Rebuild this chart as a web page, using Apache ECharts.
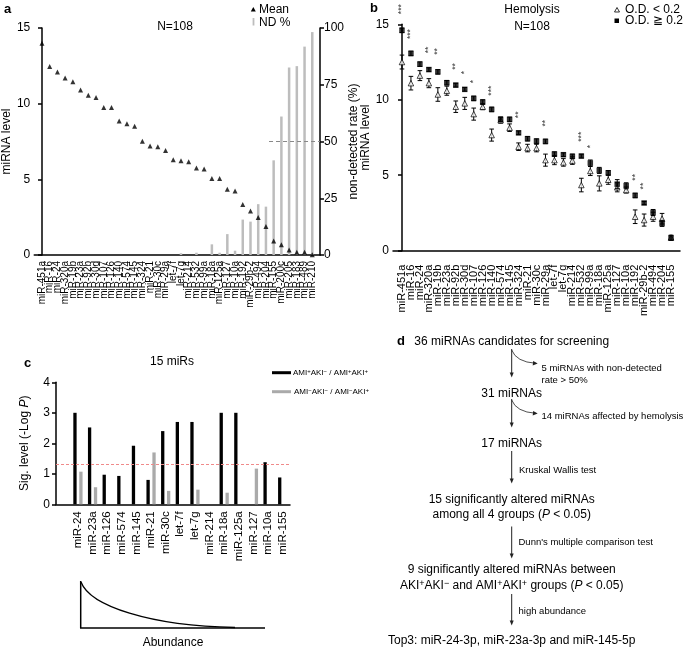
<!DOCTYPE html>
<html><head><meta charset="utf-8">
<script src="https://cdn.jsdelivr.net/npm/echarts@6/dist/echarts.min.js"></script>
<style>html,body{margin:0;padding:0;background:#fff}#c{width:685px;height:649px}</style>
</head><body><div id="c"></div><script>
const FONT = '"Liberation Sans", Arial, Helvetica, sans-serif';

// ---------- Panel a ----------
const aCategories = ['miR-451a','miR-16','miR-24','miR-320a','miR-19b','miR-23a','miR-92b','miR-30d','miR-107','miR-126','miR-140','miR-574','miR-145','miR-324','miR-21','miR-30c','miR-29a','let-7f','let-7g','miR-214','miR-532','miR-99a','miR-18a','miR-125a','miR-127','miR-10a','miR-192','miR-29b-2','miR-494','miR-204','miR-155','miR-200c','miR-205','miR-183','miR-489','miR-210'];
const aMean = [14.0,12.45,12.1,11.7,11.45,10.9,10.55,10.4,9.75,9.75,8.86,8.68,8.5,7.52,7.2,7.15,6.9,6.3,6.23,6.16,5.75,5.68,5.05,5.05,4.34,4.23,3.33,2.9,2.48,1.89,0.92,0.68,0.33,0.18,0.18,0.02];
const aND = [0,0,0,0,0,0,0,0,0,0,0,0,0,0,0,0,0,0,0.8,0,1,0,4.7,1,9.2,1.9,15.6,14.7,22.4,21.3,41.7,61,82.6,83.2,91.8,98.2];
const aCutoff = 50;          // ND % threshold
const aCutoffFrom = 29.4;    // category position where dashed threshold starts
const aLeftTicks = [0, 15, 5];   // min, max, interval
const aRightTicks = [0, 100, 25];

// ---------- Panel b ----------
const bCategories = aCategories.slice(0, 31);
const bLow     = [12.5,11.1,11.6,11.1,10.35,10.6,9.54,9.76,9.05,9.54,7.66,8.65,8.15,6.89,6.8,6.8,6.0,6.0,5.85,5.97,4.35,5.28,4.46,4.7,4.2,4.02,2.25,2.03,2.25,2.12,0.88];
const bLowErr  = [0.46,0.45,0.33,0.3,0.45,0.3,0.38,0.4,0.4,0.2,0.4,0.2,0.25,0.25,0.25,0.25,0.4,0.3,0.25,0.25,0.45,0.3,0.5,0.3,0.3,0.2,0.45,0.4,0.3,0.35,0.15];
const bHigh    = [14.6,13.07,12.36,12.0,11.85,11.13,10.97,10.69,10.09,9.85,9.36,8.7,8.7,7.81,7.42,7.26,7.24,6.4,6.36,6.25,6.27,5.81,5.32,5.16,4.41,4.3,3.66,3.16,2.53,1.81,0.84];
const bHighErr = [0.15,0.15,0.15,0.12,0.15,0.15,0.12,0.12,0.15,0.15,0.15,0.15,0.15,0.12,0.15,0.15,0.15,0.15,0.12,0.15,0.12,0.2,0.2,0.15,0.3,0.2,0.15,0.1,0.2,0.2,0.15];
const bSigIndex = [0,1,3,4,6,7,8,10,13,16,20,21,26,27];
const bSigText  = ['***','***','**','**','**','*','*','***','**','**','***','*','**','**'];
const bSigLevel = [16.0,14.35,13.3,13.2,12.2,11.8,11.2,10.6,9.0,8.45,7.55,6.9,4.86,4.28];

// ---------- Panel c ----------
const cCategories = ['miR-24','miR-23a','miR-126','miR-574','miR-145','miR-21','miR-30c','let-7f','let-7g','miR-214','miR-18a','miR-125a','miR-127','miR-10a','miR-155'];
const cPos = [3.0,2.52,0.97,0.93,1.92,0.8,2.4,2.7,2.7,0,3.0,3.0,0,1.38,0.88];  // AMI+AKI- / AMI+AKI+
const cNeg = [1.07,0.56,0,0,0,1.7,0.44,0,0.48,0,0.38,0,1.17,0,0];          // AMI-AKI- / AMI-AKI+
const cThreshold = 1.3;  // -log10(0.05)

// ---------- helpers ----------
const axLine = {show:true, lineStyle:{color:'#000', width:1.5}};
const axTick = {show:true, inside:false, length:4, lineStyle:{color:'#000', width:1.5}};
const tickLab = {color:'#000', fontFamily:FONT, fontSize:12, margin:4};
function catFmt(list){ return function(v){ const r=Math.round(v); return (Math.abs(v-r)<1e-6 && r>=0 && r<list.length) ? list[r] : ''; }; }
function errRender(params, api){
  const x=api.value(0), y=api.value(1), e=api.value(2);
  const t=api.coord([x,y+e]), b=api.coord([x,y-e]); const w=2.3;
  const st={stroke:'#000', lineWidth:1};
  return {type:'group', children:[
    {type:'line', shape:{x1:t[0],y1:t[1],x2:b[0],y2:b[1]}, style:st},
    {type:'line', shape:{x1:t[0]-w,y1:t[1],x2:t[0]+w,y2:t[1]}, style:st},
    {type:'line', shape:{x1:b[0]-w,y1:b[1],x2:b[0]+w,y2:b[1]}, style:st}]};
}
function txt(x,y,text,opt){
  opt=opt||{};
  return {type:'text', x:x, y:y, silent:true, style:Object.assign({text:text, fill:'#000', font:(opt.bold?'bold ':'')+(opt.size||12)+'px '+FONT, align:opt.align||'left', verticalAlign:opt.va||'middle'}, opt.rich?{rich:opt.rich}:{} )};
}
function line(x1,y1,x2,y2,w,c){ return {type:'line', silent:true, shape:{x1,y1,x2,y2}, style:{stroke:c||'#000', lineWidth:w||1}}; }
function downArrow(x,y1,y2){ return [line(x,y1,x,y2-4,1,'#222'), {type:'polygon', silent:true, shape:{points:[[x-2,y2-5],[x+2,y2-5],[x,y2]]}, style:{fill:'#222'}}]; }
function sideArrow(x,y){ // curved arrow leaving vertical line toward note
  return [{type:'bezierCurve', silent:true, shape:{x1:x, y1:y, cpx1:x+4.5, cpy1:y+12, x2:x+24, y2:y+13.3}, style:{stroke:'#222', lineWidth:0.8, fill:null}},
          {type:'polygon', silent:true, shape:{points:[[x+26,y+13.6],[x+21.5,y+11],[x+21,y+15.5]]}, style:{fill:'#222'}}];
}
const supRich = function(sz){ return {
  n:{fontFamily:FONT, fontSize:sz, fill:'#000'},
  s:{fontFamily:FONT, fontSize:Math.round(sz*0.72), fill:'#000', verticalAlign:'top', padding:[0,0,Math.round(sz*0.35),0]},
  i:{fontFamily:FONT, fontSize:sz, fill:'#000', fontStyle:'italic'} }; };

// ---------- graphics ----------
const g = [];
g.push(txt(4,9,'a',{bold:true,size:13}));
g.push(txt(370,8,'b',{bold:true,size:13}));
g.push(txt(24,363,'c',{bold:true,size:13}));
g.push(txt(397,341,'d',{bold:true,size:13}));
// panel a legend/title
g.push({type:'polygon', silent:true, shape:{points:[[250.8,11.5],[255.8,11.5],[253.3,7]]}, style:{fill:'#000'}});
g.push(txt(259,10,'Mean'));
g.push({type:'rect', silent:true, shape:{x:252.6,y:18,width:1.8,height:7.5}, style:{fill:'#bdbdbd'}});
g.push(txt(259,23,'ND %'));
g.push(txt(175,27,'N=108',{align:'center'}));
// panel b titles/legend
g.push(txt(532,10,'Hemolysis',{align:'center'}));
g.push(txt(532,27,'N=108',{align:'center'}));
g.push({type:'polygon', silent:true, shape:{points:[[614.5,12],[619.5,12],[617,7.5]]}, style:{fill:'#fff', stroke:'#000', lineWidth:0.8}});
g.push(txt(625,10,'O.D. < 0.2'));
g.push({type:'rect', silent:true, shape:{x:614.5,y:18.5,width:4.5,height:4.5}, style:{fill:'#000'}});
g.push(txt(625,21,'O.D. \u2267 0.2'));
// panel c title/legend
g.push(txt(172,362,'15 miRs',{align:'center'}));
g.push(line(272,372.7,291,372.7,3,'#000'));
g.push(txt(293,372.7,'{n|AMI}{s|+}{n|AKI}{s|\u2212}{n| / AMI}{s|+}{n|AKI}{s|+}',{size:8,rich:supRich(8)}));
g.push(line(272,391.7,291,391.7,3,'#aaaaaa'));
g.push(txt(294,391.7,'{n|AMI}{s|\u2212}{n|AKI}{s|\u2212}{n| / AMI}{s|\u2212}{n|AKI}{s|+}',{size:8,rich:supRich(8)}));
// abundance schematic
g.push(line(80.7,581,80.7,628,1.5));
g.push(line(80,628,265,628,1.5));
g.push({type:'bezierCurve', silent:true, shape:{x1:81, y1:582, cpx1:90, cpy1:606, cpx2:150, cpy2:626, x2:235, y2:627.5}, style:{stroke:'#000', lineWidth:1.3, fill:null}});
g.push(txt(173,643,'Abundance',{align:'center'}));
// panel d flowchart
const cx = 511.7;
g.push(txt(cx,341.7,'36 miRNAs candidates for screening',{align:'center'}));
g.push(...downArrow(cx,349,377.5)); g.push(...sideArrow(cx,350));
g.push(txt(541.5,368.3,'5 miRNAs with non-detected',{size:9.5}));
g.push(txt(541.5,380.7,'rate > 50%',{size:9.5}));
g.push(txt(cx,393.3,'31 miRNAs',{align:'center'}));
g.push(...downArrow(cx,399,427.5)); g.push(...sideArrow(cx,400));
g.push(txt(541.5,416.7,'14 miRNAs affected by hemolysis',{size:9.5}));
g.push(txt(cx,444,'17 miRNAs',{align:'center'}));
g.push(...downArrow(cx,451,483.5));
g.push(txt(519,470,'Kruskal Wallis test',{size:9.5}));
g.push(txt(cx,500,'15 significantly altered miRNAs',{align:'center'}));
g.push(txt(cx,515,'{n|among all 4 groups (}{i|P}{n| < 0.05)}',{align:'center',rich:supRich(12)}));
g.push(...downArrow(cx,526.5,558.5));
g.push(txt(518.5,542.3,"Dunn's multiple comparison test",{size:9.5}));
g.push(txt(cx,569.3,'9 significantly altered miRNAs between',{align:'center'}));
g.push(txt(cx,586,'{n|AKI}{s|+}{n|AKI}{s|\u2212}{n| and AMI}{s|+}{n|AKI}{s|+}{n| groups (}{i|P}{n| < 0.05)}',{align:'center',rich:supRich(12)}));
g.push(...downArrow(cx,594,625.5));
g.push(txt(518.5,611.7,'high abundance',{size:9.5}));
g.push(txt(cx,641,'Top3: miR-24-3p, miR-23a-3p and miR-145-5p',{align:'center'}));

const option = {
  backgroundColor:'#fff',
  animation:false,
  textStyle:{fontFamily:FONT},
  grid:[
    {left:29, top:28, width:291, height:227},
    {left:393, top:24.3, width:287, height:226.4},
    {left:56, top:382.3, width:234, height:122}
  ],
  xAxis:[
    {gridIndex:0, type:'value', min:-1, max:36, interval:1, axisLine:axLine, axisTick:{show:false}, splitLine:{show:false},
     axisLabel:{rotate:90, fontSize:10, color:'#000', fontFamily:FONT, margin:6, formatter:catFmt(aCategories)}},
    {gridIndex:1, type:'value', min:-1, max:31, interval:1, axisLine:axLine, axisTick:{show:false}, splitLine:{show:false},
     axisLabel:{rotate:90, fontSize:11, color:'#000', fontFamily:FONT, margin:14, formatter:catFmt(bCategories)}},
    {gridIndex:2, type:'category', data:[''].concat(cCategories), axisLine:axLine, axisTick:{show:false},
     axisLabel:{rotate:90, interval:0, fontSize:11.5, color:'#000', fontFamily:FONT, margin:7}}
  ],
  yAxis:[
    {gridIndex:0, type:'value', min:aLeftTicks[0], max:aLeftTicks[1], interval:aLeftTicks[2], axisLine:axLine, axisTick:axTick, splitLine:{show:false}, axisLabel:tickLab,
     name:'miRNA level', nameLocation:'middle', nameGap:14, nameTextStyle:{fontSize:12, color:'#000', fontFamily:FONT}},
    {gridIndex:0, type:'value', position:'right', min:aRightTicks[0], max:aRightTicks[1], interval:aRightTicks[2], axisLine:axLine, axisTick:axTick, splitLine:{show:false}, axisLabel:tickLab,
     name:'non-detected rate (%)', nameLocation:'middle', nameGap:21, nameTextStyle:{fontSize:12, color:'#000', fontFamily:FONT}},
    {gridIndex:1, type:'value', min:0, max:15, interval:5, axisLine:axLine, axisTick:axTick, splitLine:{show:false}, axisLabel:tickLab,
     name:'miRNA level', nameLocation:'middle', nameGap:17, nameTextStyle:{fontSize:12, color:'#000', fontFamily:FONT}},
    {gridIndex:2, type:'value', min:0, max:4, interval:1, axisLine:axLine, axisTick:axTick, splitLine:{show:false}, axisLabel:Object.assign({}, tickLab, {margin:6}),
     name:'{n|Sig. level (-Log }{i|P}{n|)}', nameLocation:'middle', nameGap:25,
     nameTextStyle:{rich:{n:{fontSize:12,color:'#000',fontFamily:FONT}, i:{fontSize:12,color:'#000',fontFamily:FONT,fontStyle:'italic'}}}}
  ],
  series:[
    {type:'bar', xAxisIndex:0, yAxisIndex:1, barWidth:2.5, itemStyle:{color:'#bdbdbd'}, data:aND.map((v,i)=>[i,v]),
     markLine:{silent:true, symbol:'none', label:{show:false}, lineStyle:{color:'#888', type:[4,3], width:1.2},
       data:[[{coord:[aCutoffFrom,aCutoff]},{coord:[36,aCutoff]}]]}},
    {type:'scatter', xAxisIndex:0, yAxisIndex:0, symbol:'triangle', symbolSize:5, itemStyle:{color:'#000'}, data:aMean.map((v,i)=>[i,v])},
    // panel b
    {type:'custom', xAxisIndex:1, yAxisIndex:2, renderItem:errRender, data:bLow.map((v,i)=>[i,v,bLowErr[i]]), z:2},
    {type:'scatter', xAxisIndex:1, yAxisIndex:2, symbol:'triangle', symbolSize:5.5, itemStyle:{color:'#fff', borderColor:'#000', borderWidth:0.9}, data:bLow.map((v,i)=>[i,v]), z:3},
    {type:'custom', xAxisIndex:1, yAxisIndex:2, renderItem:errRender, data:bHigh.map((v,i)=>[i,v,bHighErr[i]]), z:4},
    {type:'scatter', xAxisIndex:1, yAxisIndex:2, symbol:'rect', symbolSize:5.5, itemStyle:{color:'#000'}, data:bHigh.map((v,i)=>[i,v]), z:5},
    {type:'scatter', xAxisIndex:1, yAxisIndex:2, clip:false, symbolSize:1, itemStyle:{color:'rgba(0,0,0,0)'},
     label:{show:true, position:'inside', rotate:90, fontSize:8.5, color:'#000', formatter:'{b}'},
     data:bSigIndex.map((ix,k)=>({name:bSigText[k], value:[ix,bSigLevel[k]]}))},
    // panel c
    {type:'bar', xAxisIndex:2, yAxisIndex:3, barWidth:3.3, barGap:'80%', itemStyle:{color:'#000'}, data:[null].concat(cPos),
     markLine:{silent:true, symbol:'none', label:{show:false}, lineStyle:{color:'#f08a8a', type:[3,2], width:1}, data:[{yAxis:cThreshold}]}},
    {type:'bar', xAxisIndex:2, yAxisIndex:3, barWidth:3.3, itemStyle:{color:'#aaaaaa'}, data:[null].concat(cNeg)}
  ],
  graphic:g
};
const chart = echarts.init(document.getElementById('c'));
chart.setOption(option);
</script></body></html>
